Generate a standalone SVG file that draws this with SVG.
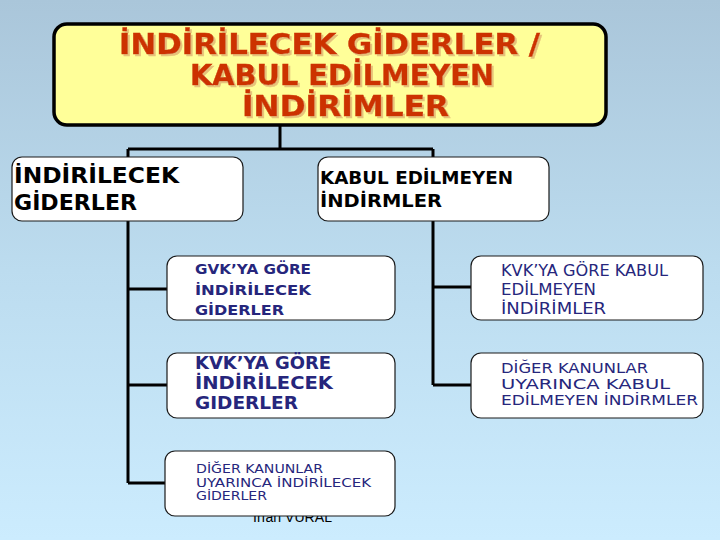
<svg xmlns="http://www.w3.org/2000/svg" width="720" height="540" viewBox="0 0 720 540">
<defs>
<linearGradient id="bg" x1="0" y1="0" x2="0" y2="1">
<stop offset="0" stop-color="#aac6da"/>
<stop offset="0.5" stop-color="#bcdcef"/>
<stop offset="1" stop-color="#ccecfe"/>
</linearGradient>
<filter id="shadow" x="-5%" y="-20%" width="110%" height="140%">
<feOffset in="SourceAlpha" dx="2" dy="2" result="off"/>
<feFlood flood-color="#e6c27a"/>
<feComposite in2="off" operator="in" result="sh"/>
<feMerge><feMergeNode in="sh"/><feMergeNode in="SourceGraphic"/></feMerge>
</filter>
<style>
.box{fill:#ffffff;stroke:#1a1a1a;stroke-width:1.2}
.conn{fill:none;stroke:#000;stroke-width:3}
.title{font-family:"DejaVu Sans",Verdana,sans-serif;font-weight:bold;font-size:29px;fill:#cc3300;stroke:#cc3300;stroke-width:0.4}
.blk{font-family:"DejaVu Sans",Verdana,sans-serif;font-weight:bold;fill:#000}
.navyb{font-family:"DejaVu Sans",Verdana,sans-serif;font-weight:bold;fill:#26267c}
.navy{font-family:"DejaVu Sans Condensed","DejaVu Sans",sans-serif;fill:#26267c}
.foot{font-family:"Liberation Sans",Arial,sans-serif;font-size:14px;fill:#000}
</style>
</defs>
<rect x="0" y="0" width="720" height="540" fill="url(#bg)"/>
<text class="foot" x="253" y="522" textLength="79" lengthAdjust="spacingAndGlyphs">İrfan VURAL</text>
<g id="connectors">
<path class="conn" d="M280 126 V149 M128 149 H433 M128 149 V157 M433 149 V157"/>
<path class="conn" d="M128 221 V483 M128 289 H167 M128 385 H167 M128 483 H166"/>
<path class="conn" d="M433 221 V385 M433 287 H471 M433 385 H471"/>
</g>
<g id="title">
<rect x="54" y="24" width="552" height="101" rx="13" fill="#ffff99" stroke="#000" stroke-width="3.5"/>
<g filter="url(#shadow)">
<text class="title" x="119" y="54" textLength="421" lengthAdjust="spacingAndGlyphs">İNDİRİLECEK GİDERLER /</text>
<text class="title" x="190" y="85" textLength="304" lengthAdjust="spacingAndGlyphs">KABUL EDİLMEYEN</text>
<text class="title" x="242" y="116" textLength="207" lengthAdjust="spacingAndGlyphs">İNDİRİMLER</text>
</g>
</g>
<g id="indirilecek">
<rect class="box" x="12" y="157" width="231" height="64" rx="10"/>
<text class="blk" font-size="22" x="14" y="183" textLength="165" lengthAdjust="spacingAndGlyphs">İNDİRİLECEK</text>
<text class="blk" font-size="22" x="14" y="210" textLength="123" lengthAdjust="spacingAndGlyphs">GİDERLER</text>
</g>
<g id="kabul">
<rect class="box" x="318" y="157" width="231" height="64" rx="10"/>
<text class="blk" font-size="17" x="320" y="184" textLength="193" lengthAdjust="spacingAndGlyphs">KABUL EDİLMEYEN</text>
<text class="blk" font-size="17" x="320" y="207" textLength="122" lengthAdjust="spacingAndGlyphs">İNDİRMLER</text>
</g>
<g id="gvk">
<rect class="box" x="167" y="256" width="228" height="64" rx="10"/>
<text class="navyb" font-size="13.5" x="195" y="274" textLength="116" lengthAdjust="spacingAndGlyphs">GVK’YA GÖRE</text>
<text class="navyb" font-size="13.5" x="195" y="295" textLength="116" lengthAdjust="spacingAndGlyphs">İNDİRİLECEK</text>
<text class="navyb" font-size="13.5" x="195" y="315" textLength="89" lengthAdjust="spacingAndGlyphs">GİDERLER</text>
</g>
<g id="kvk">
<rect class="box" x="167" y="353" width="228" height="65" rx="10"/>
<text class="navyb" font-size="17" x="195" y="369" textLength="136" lengthAdjust="spacingAndGlyphs">KVK’YA GÖRE</text>
<text class="navyb" font-size="17" x="195" y="389" textLength="138" lengthAdjust="spacingAndGlyphs">İNDİRİLECEK</text>
<text class="navyb" font-size="17" x="195" y="409" textLength="103" lengthAdjust="spacingAndGlyphs">GIDERLER</text>
</g>
<g id="diger-left">
<rect class="box" x="165" y="451" width="230" height="65" rx="10"/>
<text class="navy" font-size="12" x="196" y="473" textLength="127" lengthAdjust="spacingAndGlyphs">DİĞER KANUNLAR</text>
<text class="navy" font-size="12" x="196" y="487" textLength="175" lengthAdjust="spacingAndGlyphs">UYARINCA İNDİRİLECEK</text>
<text class="navy" font-size="12" x="196" y="500" textLength="71" lengthAdjust="spacingAndGlyphs">GİDERLER</text>
</g>
<g id="kvk-kabul">
<rect class="box" x="471" y="256" width="232" height="64" rx="10"/>
<text class="navy" font-size="15" x="501" y="276" textLength="167" lengthAdjust="spacingAndGlyphs">KVK’YA GÖRE KABUL</text>
<text class="navy" font-size="15" x="501" y="295" textLength="95" lengthAdjust="spacingAndGlyphs">EDİLMEYEN</text>
<text class="navy" font-size="15" x="501" y="314" textLength="105" lengthAdjust="spacingAndGlyphs">İNDİRİMLER</text>
</g>
<g id="diger-right">
<rect class="box" x="471" y="353" width="232" height="65" rx="10"/>
<text class="navy" font-size="14" x="501" y="373" textLength="147" lengthAdjust="spacingAndGlyphs">DİĞER KANUNLAR</text>
<text class="navy" font-size="14" x="501" y="389" textLength="169" lengthAdjust="spacingAndGlyphs">UYARINCA KABUL</text>
<text class="navy" font-size="14" x="501" y="405" textLength="197" lengthAdjust="spacingAndGlyphs">EDİLMEYEN İNDİRMLER</text>
</g>
</svg>
